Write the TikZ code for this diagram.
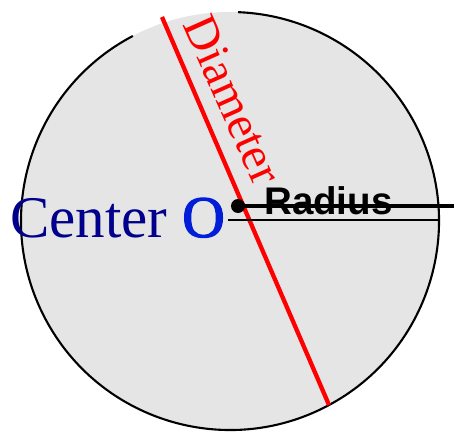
\documentclass[tikz,border=0pt]{standalone}
\usepackage{fontspec}
\usetikzlibrary{calc}
\setmainfont{Liberation Serif}
\newfontfamily\radfont{Liberation Sans}[BoldFont={Liberation Sans Bold}]
\newfontfamily\ofont[FakeBold=2.2]{Liberation Serif}
\definecolor{diskgray}{RGB}{229,229,229}
\definecolor{centerblue}{RGB}{0,0,140}
\definecolor{oblue}{RGB}{0,30,215}
\begin{document}
\begin{tikzpicture}[x=1pt,y=-1pt,
  disk/.style={fill=diskgray,draw=none},
  rim/.style={draw=black,line width=2.1pt},
  diam/.style={draw=red,line width=4.3pt},
  radline/.style={draw=black,line width=4.6pt},
  thinline/.style={draw=black,line width=1.6pt}]
\useasboundingbox (0,0) rectangle (454,433);
\coordinate (C) at (230,221);
\fill[disk] (C) circle[radius=209];
\draw[rim] ($(C)+(117.7:209 and -209)$) arc[start angle=-117.7,end angle=-447.8,radius=209];
\coordinate (d1) at (162,17);
\coordinate (d2) at (329,405);
\draw[diam] (d1) -- (d2);
\node[text=red,font=\fontsize{48}{48}\selectfont,rotate=-66,inner sep=0] (dlab) at (233,100) {Diameter};
\node[anchor=base west,inner sep=0,font=\radfont\bfseries\fontsize{38.5}{38.5}\selectfont] (rlab) at (264,214) {Radius};
\coordinate (dot) at (238,206);
\coordinate (rend) at (470,206);
\draw[radline] (dot) -- (rend);
\fill (dot) circle[radius=7];
\coordinate (t1) at (228,220);
\coordinate (t2) at (438,220);
\draw[thinline] (t1) -- (t2);
\node[anchor=base west,inner sep=0,text=centerblue,font=\fontsize{59}{59}\selectfont] (clab) at (10,237) {Center \textcolor{oblue}{\ofont O}};
\end{tikzpicture}
\end{document}
